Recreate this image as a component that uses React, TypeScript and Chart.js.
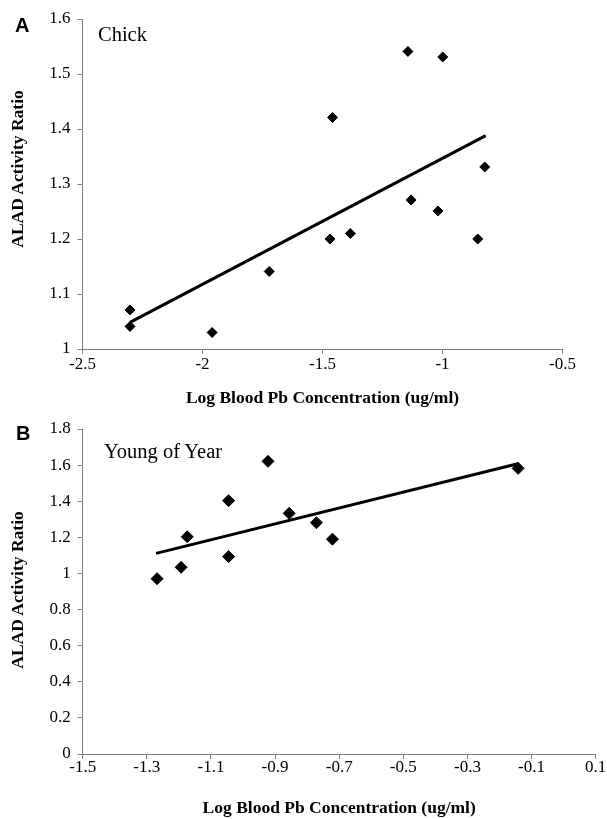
import React, { useEffect, useRef } from 'react';
import { Chart, registerables } from 'chart.js';

Chart.register(...registerables);

// Panel A – Chick
const chickX = [-2.302, -2.302, -1.96, -1.722, -1.469, -1.458, -1.384, -1.144, -1.131, -0.999, -1.019, -0.853, -0.824];
const chickY = [1.071, 1.041, 1.03, 1.141, 1.2, 1.421, 1.21, 1.541, 1.271, 1.531, 1.251, 1.2, 1.331];
const chickTrendX = [-2.302, -0.82];
const chickTrendY = [1.0485, 1.388];
const chickXTicks = [-2.5, -2, -1.5, -1, -0.5];
const chickXTickLabels = ['-2.5', '-2', '-1.5', '-1', '-0.5'];
const chickYTicks = [1, 1.1, 1.2, 1.3, 1.4, 1.5, 1.6];
const chickYTickLabels = ['1', '1.1', '1.2', '1.3', '1.4', '1.5', '1.6'];

// Panel B – Young of Year
const yoyX = [-1.268, -1.193, -1.174, -1.045, -1.045, -0.922, -0.856, -0.771, -0.721, -0.142];
const yoyY = [0.971, 1.034, 1.203, 1.093, 1.403, 1.621, 1.333, 1.281, 1.19, 1.582];
const yoyTrendX = [-1.271, -0.14];
const yoyTrendY = [1.111, 1.609];
const yoyXTicks = [-1.5, -1.3, -1.1, -0.9, -0.7, -0.5, -0.3, -0.1, 0.1];
const yoyXTickLabels = ['-1.5', '-1.3', '-1.1', '-0.9', '-0.7', '-0.5', '-0.3', '-0.1', '0.1'];
const yoyYTicks = [0, 0.2, 0.4, 0.6, 0.8, 1, 1.2, 1.4, 1.6, 1.8];
const yoyYTickLabels = ['0', '0.2', '0.4', '0.6', '0.8', '1', '1.2', '1.4', '1.6', '1.8'];

const xTitle = 'Log Blood Pb Concentration (ug/ml)';
const yTitle = 'ALAD Activity Ratio';

const SERIF = "'Liberation Serif', 'Times New Roman', serif";
const SANS = "'Liberation Sans', Arial, sans-serif";

interface PanelSpec {
  xs: number[];
  ys: number[];
  tx: number[];
  ty: number[];
  xTicks: number[];
  xLabels: string[];
  yTicks: number[];
  yLabels: string[];
  padRight: number;
  padTop: number;
  yWidth: number;
  xHeight: number;
  xTickPad: number;
  xTitlePadBottom: number;
  pointRadius: number;
}

function makeConfig(p: PanelSpec): any {
  const pts = p.xs.map((x, i) => ({ x, y: p.ys[i] }));
  const trend = p.tx.map((x, i) => ({ x, y: p.ty[i] }));
  return {
    type: 'scatter',
    data: {
      datasets: [
        {
          data: trend,
          showLine: true,
          borderColor: '#000',
          borderWidth: 3,
          pointRadius: 0,
          fill: false,
        },
        {
          data: pts,
          showLine: false,
          pointStyle: 'rectRot',
          pointRadius: p.pointRadius,
          backgroundColor: '#000',
          borderColor: '#000',
          borderWidth: 1,
        },
      ],
    },
    options: {
      responsive: false,
      animation: false,
      devicePixelRatio: 1,
      layout: { padding: { left: 0, right: p.padRight, top: p.padTop, bottom: 0 } },
      plugins: { legend: { display: false }, tooltip: { enabled: false } },
      scales: {
        x: {
          type: 'linear',
          min: p.xTicks[0],
          max: p.xTicks[p.xTicks.length - 1],
          afterBuildTicks: (s: any) => {
            s.ticks = p.xTicks.map((v) => ({ value: v }));
          },
          afterFit: (s: any) => {
            s.height = p.xHeight;
            s.paddingLeft = 0;
            s.paddingRight = 0;
          },
          grid: { drawOnChartArea: false, drawTicks: true, tickLength: 5, color: '#808080' },
          border: { color: '#808080', width: 1 },
          ticks: {
            color: '#000',
            padding: p.xTickPad,
            maxRotation: 0,
            autoSkip: false,
            font: { family: SERIF, size: 17, lineHeight: 1 },
            callback: (_v: any, i: number) => p.xLabels[i],
          },
          title: {
            display: true,
            text: xTitle,
            color: '#000',
            font: { family: SERIF, size: 17.5, weight: 'bold', lineHeight: 1.2 },
            padding: { top: 0, bottom: p.xTitlePadBottom },
          },
        },
        y: {
          type: 'linear',
          min: p.yTicks[0],
          max: p.yTicks[p.yTicks.length - 1],
          afterBuildTicks: (s: any) => {
            s.ticks = p.yTicks.map((v) => ({ value: v }));
          },
          afterFit: (s: any) => {
            s.width = p.yWidth;
            s.paddingTop = 0;
            s.paddingBottom = 0;
          },
          grid: { drawOnChartArea: false, drawTicks: true, tickLength: 5, color: '#808080' },
          border: { color: '#808080', width: 1 },
          ticks: {
            color: '#000',
            padding: 7,
            autoSkip: false,
            font: { family: SERIF, size: 17, lineHeight: 1 },
            callback: (_v: any, i: number) => p.yLabels[i],
          },
          title: { display: false },
        },
      },
    },
  };
}

const specA: PanelSpec = {
  xs: chickX,
  ys: chickY,
  tx: chickTrendX,
  ty: chickTrendY,
  xTicks: chickXTicks,
  xLabels: chickXTickLabels,
  yTicks: chickYTicks,
  yLabels: chickYTickLabels,
  padRight: 44.5,
  padTop: 19,
  yWidth: 82.5,
  xHeight: 61,
  xTickPad: 2,
  xTitlePadBottom: 1,
  pointRadius: 5,
};

const specB: PanelSpec = {
  xs: yoyX,
  ys: yoyY,
  tx: yoyTrendX,
  ty: yoyTrendY,
  xTicks: yoyXTicks,
  xLabels: yoyXTickLabels,
  yTicks: yoyYTicks,
  yLabels: yoyYTickLabels,
  padRight: 11.3,
  padTop: 19,
  yWidth: 82.7,
  xHeight: 65,
  xTickPad: 0,
  xTitlePadBottom: 0,
  pointRadius: 6,
};

function Panel({ spec, height, top }: { spec: PanelSpec; height: number; top: number }) {
  const ref = useRef<HTMLCanvasElement | null>(null);
  useEffect(() => {
    if (!ref.current) return;
    const chart = new Chart(ref.current, makeConfig(spec));
    return () => chart.destroy();
  }, [spec]);
  return (
    <div style={{ position: 'absolute', left: 0, top, width: 607, height }}>
      <canvas ref={ref} width={607} height={height} style={{ width: 607, height, display: 'block' }} />
    </div>
  );
}

const textBase: React.CSSProperties = {
  position: 'absolute',
  whiteSpace: 'nowrap',
  color: '#000',
  margin: 0,
};

export default function App() {
  return (
    <div style={{ position: 'fixed', left: 0, top: 0, width: 607, height: 819, background: '#fff', overflow: 'hidden' }}>
      <Panel spec={specA} height={410} top={0} />
      <Panel spec={specB} height={409} top={410} />

      <div style={{ ...textBase, left: 15, top: 15, fontFamily: SANS, fontWeight: 'bold', fontSize: 20, lineHeight: '20px' }}>A</div>
      <div style={{ ...textBase, left: 16, top: 423, fontFamily: SANS, fontWeight: 'bold', fontSize: 20, lineHeight: '20px' }}>B</div>

      <div style={{ ...textBase, left: 98, top: 24, fontFamily: SERIF, fontSize: 20.5, lineHeight: '20.5px' }}>Chick</div>
      <div style={{ ...textBase, left: 104, top: 440.5, fontFamily: SERIF, fontSize: 20.5, lineHeight: '20.5px' }}>Young of Year</div>

      <div
        style={{
          ...textBase,
          left: 18,
          top: 168.5,
          transform: 'translate(-50%, -50%) rotate(-90deg)',
          fontFamily: SERIF,
          fontWeight: 'bold',
          fontSize: 17.5,
          lineHeight: '17.5px',
        }}
      >
        {yTitle}
      </div>
      <div
        style={{
          ...textBase,
          left: 18,
          top: 590,
          transform: 'translate(-50%, -50%) rotate(-90deg)',
          fontFamily: SERIF,
          fontWeight: 'bold',
          fontSize: 17.5,
          lineHeight: '17.5px',
        }}
      >
        {yTitle}
      </div>
    </div>
  );
}
